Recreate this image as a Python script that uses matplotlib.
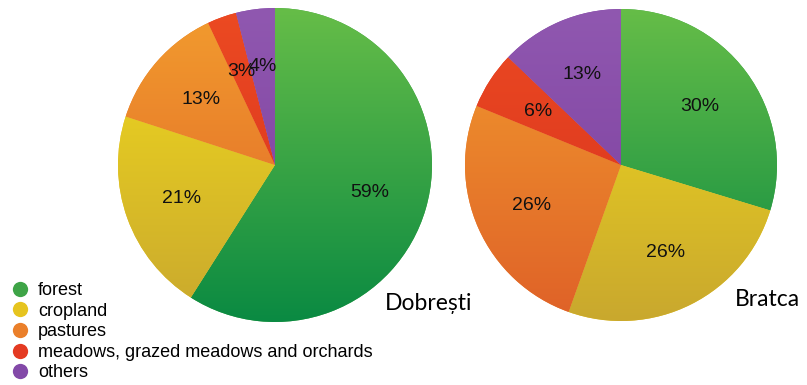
import numpy as np
import matplotlib.pyplot as plt
from matplotlib.colors import LinearSegmentedColormap
from matplotlib.lines import Line2D

plt.rcParams['font.family'] = ['Liberation Sans', 'DejaVu Sans']

categories = ['forest', 'cropland', 'pastures',
              'meadows, grazed meadows and orchards', 'others']
dobresti = [59, 21, 13, 3, 4]
bratca = [30, 26, 26, 6, 13]

# light (top) / dark (bottom) shade for each category
top_colors = ['#66bd48', '#f3dc1c', '#f29c2e', '#ec4a22', '#9058b0']
bottom_colors = ['#0a8a42', '#c9a82e', '#df6128', '#d6301e', '#7a3c9c']
legend_colors = ['#3ea447', '#e6c41f', '#ea7f2a', '#e43a22', '#8349a8']

W, H = 807, 385
fig = plt.figure(figsize=(W / 100, H / 100), dpi=100)


def draw_pie(cx, cy, r, values, name, name_xy):
    ax = fig.add_axes([(cx - r) / W, (H - cy - r) / H, 2 * r / W, 2 * r / H])
    wedges, _, autotexts = ax.pie(values, colors=legend_colors, startangle=90,
                                  counterclock=False, radius=1,
                                  autopct='%.0f%%', pctdistance=0.63,
                                  wedgeprops=dict(linewidth=0),
                                  textprops=dict(fontsize=14, color='#111111'))
    grad = np.linspace(0, 1, 256).reshape(-1, 1)
    for w, c0, c1 in zip(wedges, bottom_colors, top_colors):
        cmap = LinearSegmentedColormap.from_list('g', [c0, c1])
        im = ax.imshow(grad, cmap=cmap, extent=[-1, 1, -1, 1], origin='lower',
                       aspect='auto', zorder=1.5)
        im.set_clip_path(w)
    for t in autotexts:
        t.set_zorder(3)
    ax.set_xlim(-1, 1)
    ax.set_ylim(-1, 1)
    ax.axis('off')
    fig.text(name_xy[0] / W, 1 - name_xy[1] / H, name, fontsize=16.5,
             family='Lato', ha='left', va='center')


draw_pie(275, 165, 157, dobresti, 'Dobrești', (385, 304))
draw_pie(621, 165, 156, bratca, 'Bratca', (735, 300))

handles = [Line2D([], [], marker='o', linestyle='', markersize=11,
                  markerfacecolor=c, markeredgewidth=0) for c in legend_colors]
fig.legend(handles, categories, loc='upper left',
           bbox_to_anchor=(9 / W, 1 - 282 / H), frameon=False,
           fontsize=13, handletextpad=0.4, handlelength=1.2,
           labelspacing=0.2, borderaxespad=0, borderpad=0)

fig.savefig('out.png', dpi=100)
